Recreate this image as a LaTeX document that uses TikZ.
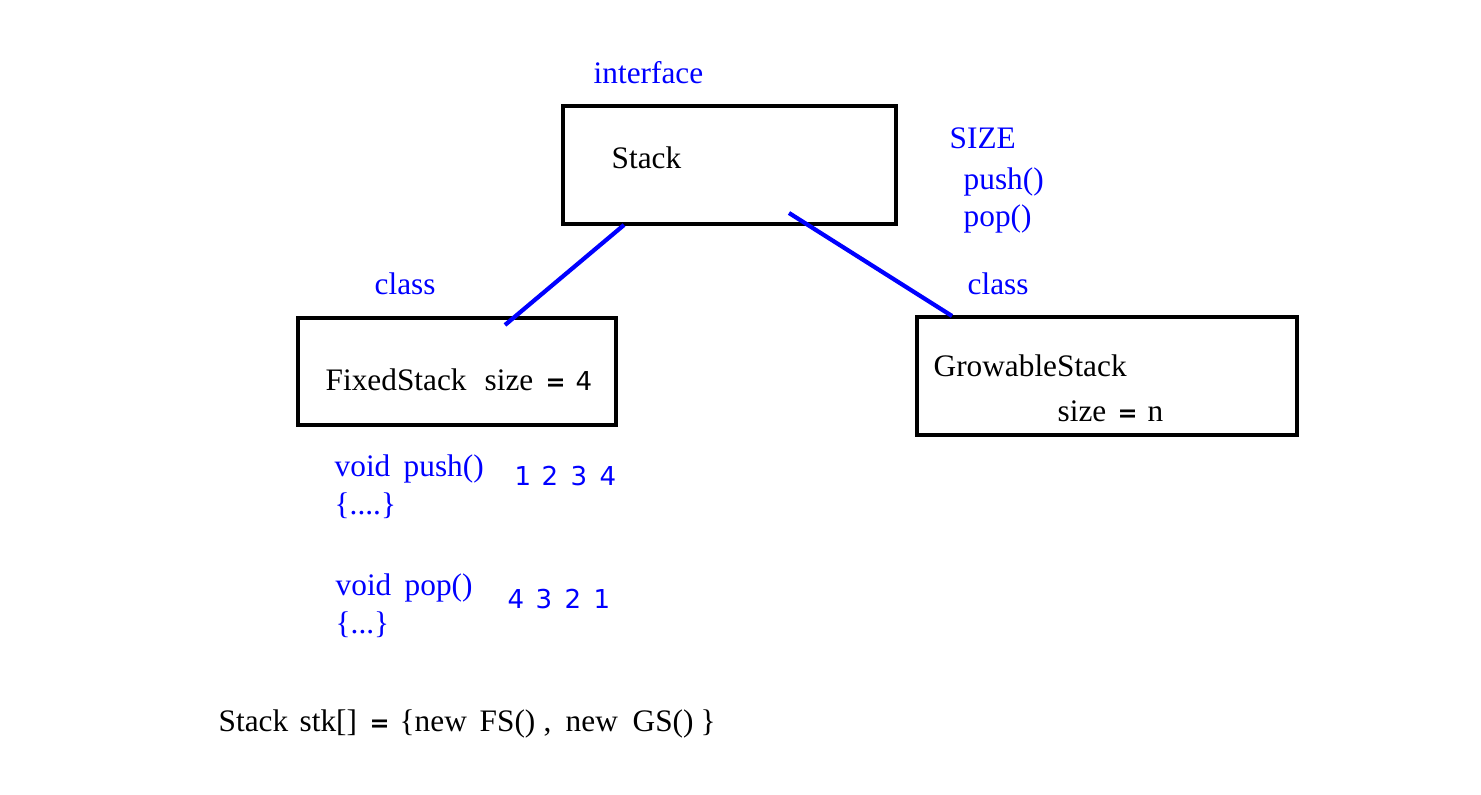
\documentclass[tikz,border=0pt]{standalone}
\usepackage{fontspec}
\setmainfont{Liberation Serif}
\newfontfamily\symfont{DejaVu Sans}
\begin{document}
\begin{tikzpicture}[x=0.01cm,y=-0.01cm,
  box/.style={draw=black,line width=1.2pt},
  txt/.style={anchor=base west,inner sep=0pt,font=\fontsize{8.9}{11}\selectfont},
  btxt/.style={txt,text=blue},
  sym/.style={anchor=base west,inner sep=0pt,font=\symfont\bfseries\fontsize{6.8}{8}\selectfont},
  dig/.style={anchor=base west,inner sep=0pt,text=blue,font=\symfont\fontsize{7.4}{8}\selectfont},
  link/.style={draw=blue,line width=1.2pt}]
\useasboundingbox (0,0) rectangle (1481,795);
% boxes
\draw[box] (563,106) rectangle (896,224);
\draw[box] (298,318) rectangle (616,425);
\draw[box] (917,317) rectangle (1297,435);
% link ends
\coordinate (s1) at (624,225);
\coordinate (f1) at (505,325);
\coordinate (s2) at (789,213);
\coordinate (g1) at (952,316);
\draw[link] (s1) -- (f1);
\draw[link] (s2) -- (g1);
% texts
\node[btxt] (iface) at (593,84) {interface};
\node[txt] (stack) at (611,169) {Stack};
\node[btxt] (sizec) at (949,149) {SIZE};
\node[btxt] (push1) at (963,190) {push()};
\node[btxt] (pop1) at (963,227) {pop()};
\node[btxt] (cl1) at (374,295) {class};
\node[btxt] (cl2) at (967,295) {class};
% FixedStack
\node[txt] (fs) at (325,391) {FixedStack};
\node[txt] (fsz) at (484,391) {size};
\node[sym] (feq) at (545,391) {=};
\node[sym,font=\symfont\fontsize{7.4}{8}\selectfont] (f4) at (575,391) {4};
% GrowableStack
\node[txt] (gs) at (933,377) {GrowableStack};
\node[txt] (gsz) at (1057,422) {size};
\node[sym] (geq) at (1117,422) {=};
\node[txt] (gn) at (1147,422) {n};
% methods
\node[btxt] (v1) at (334,477) {void};
\node[btxt] (push2) at (403,477) {push()};
\node[btxt] (br1) at (334,515) {\{....\}};
\node[dig] (a1) at (514,486) {1};
\node[dig] (a2) at (541,486) {2};
\node[dig] (a3) at (570,486) {3};
\node[dig] (a4) at (599,486) {4};
\node[btxt] (v2) at (335,596) {void};
\node[btxt] (pop2) at (404,596) {pop()};
\node[btxt] (br2) at (335,634) {\{...\}};
\node[dig] (b1) at (507,609) {4};
\node[dig] (b2) at (535,609) {3};
\node[dig] (b3) at (564,609) {2};
\node[dig] (b4) at (593,609) {1};
% declaration
\node[txt] (d1) at (218,732) {Stack};
\node[txt] (d2) at (299,732) {stk[]};
\node[sym] (d3) at (369,732) {=};
\node[txt] (d4) at (399,732) {\{new};
\node[txt] (d5) at (479,732) {FS()};
\node[txt] (d6) at (543,732) {,};
\node[txt] (d7) at (565,732) {new};
\node[txt] (d8) at (632,732) {GS()};
\node[txt] (d9) at (700,732) {\}};
\end{tikzpicture}
\end{document}
